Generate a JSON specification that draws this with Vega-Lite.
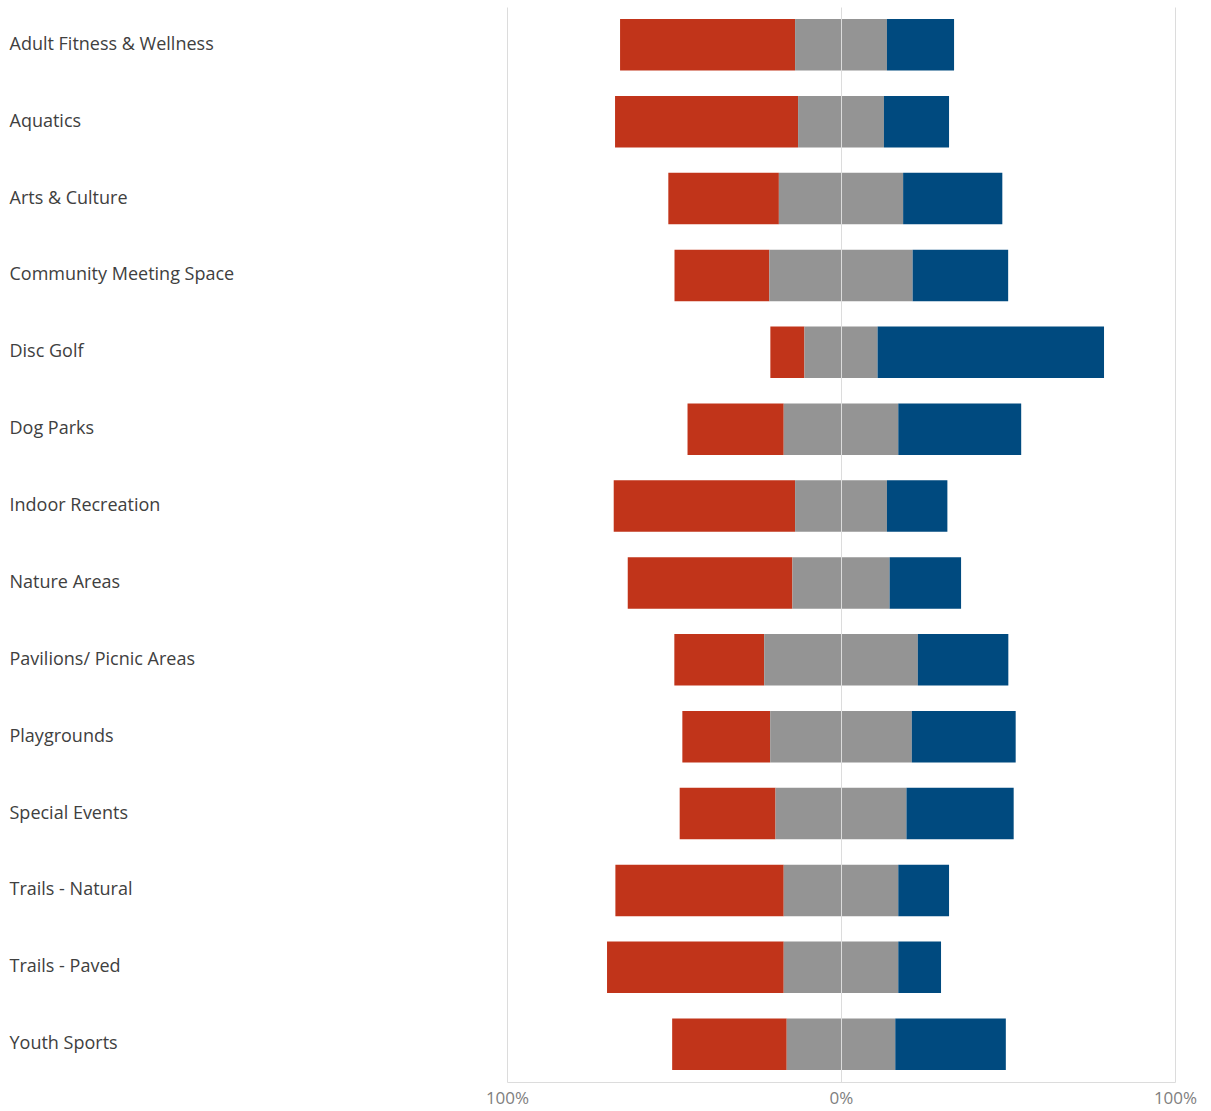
{
  "$schema": "https://vega.github.io/schema/vega-lite/v6.json",
  "width": 668,
  "height": 1075,
  "autosize": {"type": "none"},
  "padding": {"left": 507, "top": 7, "right": 36, "bottom": 29},
  "background": "#ffffff",
  "config": {"view": {"stroke": null}, "font": "Open Sans"},
  "data": {
    "values": [
      {"item": "Adult Fitness & Wellness", "response": "Negative", "value": -52.4, "ord": 2},
      {"item": "Adult Fitness & Wellness", "response": "Neutral (low)", "value": -13.75, "ord": 1},
      {"item": "Adult Fitness & Wellness", "response": "Neutral (high)", "value": 13.75, "ord": 1},
      {"item": "Adult Fitness & Wellness", "response": "Positive", "value": 20.1, "ord": 2},
      {"item": "Aquatics", "response": "Negative", "value": -54.8, "ord": 2},
      {"item": "Aquatics", "response": "Neutral (low)", "value": -12.85, "ord": 1},
      {"item": "Aquatics", "response": "Neutral (high)", "value": 12.85, "ord": 1},
      {"item": "Aquatics", "response": "Positive", "value": 19.5, "ord": 2},
      {"item": "Arts & Culture", "response": "Negative", "value": -33.1, "ord": 2},
      {"item": "Arts & Culture", "response": "Neutral (low)", "value": -18.6, "ord": 1},
      {"item": "Arts & Culture", "response": "Neutral (high)", "value": 18.6, "ord": 1},
      {"item": "Arts & Culture", "response": "Positive", "value": 29.7, "ord": 2},
      {"item": "Community Meeting Space", "response": "Negative", "value": -28.4, "ord": 2},
      {"item": "Community Meeting Space", "response": "Neutral (low)", "value": -21.45, "ord": 1},
      {"item": "Community Meeting Space", "response": "Neutral (high)", "value": 21.45, "ord": 1},
      {"item": "Community Meeting Space", "response": "Positive", "value": 28.6, "ord": 2},
      {"item": "Disc Golf", "response": "Negative", "value": -10.2, "ord": 2},
      {"item": "Disc Golf", "response": "Neutral (low)", "value": -10.95, "ord": 1},
      {"item": "Disc Golf", "response": "Neutral (high)", "value": 10.95, "ord": 1},
      {"item": "Disc Golf", "response": "Positive", "value": 67.8, "ord": 2},
      {"item": "Dog Parks", "response": "Negative", "value": -28.8, "ord": 2},
      {"item": "Dog Parks", "response": "Neutral (low)", "value": -17.15, "ord": 1},
      {"item": "Dog Parks", "response": "Neutral (high)", "value": 17.15, "ord": 1},
      {"item": "Dog Parks", "response": "Positive", "value": 36.8, "ord": 2},
      {"item": "Indoor Recreation", "response": "Negative", "value": -54.3, "ord": 2},
      {"item": "Indoor Recreation", "response": "Neutral (low)", "value": -13.75, "ord": 1},
      {"item": "Indoor Recreation", "response": "Neutral (high)", "value": 13.75, "ord": 1},
      {"item": "Indoor Recreation", "response": "Positive", "value": 18.1, "ord": 2},
      {"item": "Nature Areas", "response": "Negative", "value": -49.3, "ord": 2},
      {"item": "Nature Areas", "response": "Neutral (low)", "value": -14.55, "ord": 1},
      {"item": "Nature Areas", "response": "Neutral (high)", "value": 14.55, "ord": 1},
      {"item": "Nature Areas", "response": "Positive", "value": 21.4, "ord": 2},
      {"item": "Pavilions/ Picnic Areas", "response": "Negative", "value": -26.9, "ord": 2},
      {"item": "Pavilions/ Picnic Areas", "response": "Neutral (low)", "value": -23.0, "ord": 1},
      {"item": "Pavilions/ Picnic Areas", "response": "Neutral (high)", "value": 23.0, "ord": 1},
      {"item": "Pavilions/ Picnic Areas", "response": "Positive", "value": 27.1, "ord": 2},
      {"item": "Playgrounds", "response": "Negative", "value": -26.3, "ord": 2},
      {"item": "Playgrounds", "response": "Neutral (low)", "value": -21.2, "ord": 1},
      {"item": "Playgrounds", "response": "Neutral (high)", "value": 21.2, "ord": 1},
      {"item": "Playgrounds", "response": "Positive", "value": 31.1, "ord": 2},
      {"item": "Special Events", "response": "Negative", "value": -28.7, "ord": 2},
      {"item": "Special Events", "response": "Neutral (low)", "value": -19.6, "ord": 1},
      {"item": "Special Events", "response": "Neutral (high)", "value": 19.6, "ord": 1},
      {"item": "Special Events", "response": "Positive", "value": 32.1, "ord": 2},
      {"item": "Trails - Natural", "response": "Negative", "value": -50.4, "ord": 2},
      {"item": "Trails - Natural", "response": "Neutral (low)", "value": -17.15, "ord": 1},
      {"item": "Trails - Natural", "response": "Neutral (high)", "value": 17.15, "ord": 1},
      {"item": "Trails - Natural", "response": "Positive", "value": 15.2, "ord": 2},
      {"item": "Trails - Paved", "response": "Negative", "value": -52.9, "ord": 2},
      {"item": "Trails - Paved", "response": "Neutral (low)", "value": -17.15, "ord": 1},
      {"item": "Trails - Paved", "response": "Neutral (high)", "value": 17.15, "ord": 1},
      {"item": "Trails - Paved", "response": "Positive", "value": 12.8, "ord": 2},
      {"item": "Youth Sports", "response": "Negative", "value": -34.3, "ord": 2},
      {"item": "Youth Sports", "response": "Neutral (low)", "value": -16.25, "ord": 1},
      {"item": "Youth Sports", "response": "Neutral (high)", "value": 16.25, "ord": 1},
      {"item": "Youth Sports", "response": "Positive", "value": 33.1, "ord": 2}
    ]
  },
  "mark": {"type": "bar"},
  "encoding": {
    "y": {
      "field": "item",
      "type": "nominal",
      "sort": null,
      "scale": {"paddingInner": 0.33, "paddingOuter": 0.156},
      "axis": {
        "title": null,
        "domain": false,
        "ticks": false,
        "labelAlign": "left",
        "labelPadding": 498,
        "labelFontSize": 18,
        "labelFont": "Open Sans",
        "labelColor": "#404040",
        "labelLimit": 0
      }
    },
    "x": {
      "field": "value",
      "type": "quantitative",
      "stack": "zero",
      "scale": {"domain": [-100, 100]},
      "axis": {
        "title": null,
        "values": [-100, 0, 100],
        "labelExpr": "abs(datum.value) + '%'",
        "grid": true,
        "gridColor": "#dcdcdc",
        "domainColor": "#dcdcdc",
        "ticks": false,
        "labelFontSize": 17,
        "labelFont": "Open Sans",
        "labelColor": "#808080",
        "labelPadding": 8,
        "labelFlush": false,
        "zindex": 1
      }
    },
    "color": {
      "field": "response",
      "type": "nominal",
      "scale": {
        "domain": ["Negative", "Neutral (low)", "Neutral (high)", "Positive"],
        "range": ["#c1341a", "#949494", "#949494", "#004a7f"]
      },
      "legend": null
    },
    "order": {"field": "ord", "type": "quantitative"}
  }
}
